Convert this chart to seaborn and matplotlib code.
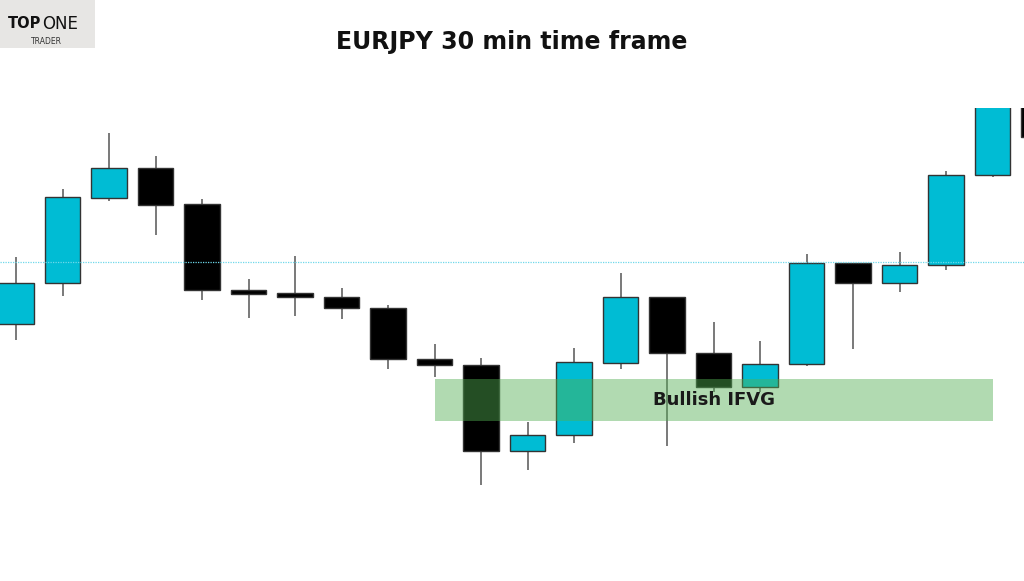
import numpy as np
import pandas as pd
import seaborn as sns
import matplotlib.pyplot as plt
from matplotlib.patches import Rectangle

# EURJPY 30 min candles (arbitrary price scale)
opens  = [162.57, 162.98, 163.83, 164.13, 163.77, 162.91, 162.88, 162.84, 162.73, 162.22, 162.16,
          161.30, 161.46, 162.18, 162.84, 162.28, 161.94, 162.17, 163.18, 162.98, 163.16, 164.06, 164.85]
highs  = [163.24, 163.92, 164.48, 164.25, 163.82, 163.02, 163.25, 162.93, 162.76, 162.37, 162.23,
          161.59, 162.33, 163.08, 162.84, 162.59, 162.40, 163.27, 163.18, 163.29, 164.10, 164.90, 164.90]
lows   = [162.41, 162.85, 163.80, 163.46, 162.81, 162.63, 162.65, 162.62, 162.12, 162.04, 160.96,
          161.11, 161.38, 162.12, 161.35, 161.89, 161.89, 162.15, 162.32, 162.89, 163.11, 164.04, 164.40]
closes = [162.98, 163.84, 164.13, 163.76, 162.91, 162.87, 162.84, 162.73, 162.22, 162.16, 161.30,
          161.46, 162.19, 162.84, 162.28, 161.94, 162.17, 163.18, 162.98, 163.16, 164.06, 164.85, 164.44]

level_price = 163.19          # dotted horizontal level
zone_low, zone_high = 161.60, 162.02   # Bullish IFVG zone
zone_start, zone_end = 9, 21           # candle index range of zone

df = pd.DataFrame({"open": opens, "high": highs, "low": lows, "close": closes})
df["idx"] = np.arange(len(df))
df["bull"] = df["close"] >= df["open"]

sns.set_theme(style="white")
plt.rcParams['font.family'] = ['DejaVu Sans']

bull_c = "#00bcd4"
bear_c = "#000000"

fig = plt.figure(figsize=(10.24, 5.81), dpi=100)
ax = fig.add_axes([0, 0, 1, (581 - 108) / 581])

# wicks
ax.vlines(df["idx"], df["low"], df["high"], color="#555555", linewidth=1.1, zorder=1)

# bodies
bottoms = df[["open", "close"]].min(axis=1)
heights = (df["close"] - df["open"]).abs().clip(lower=0.04)
colors = [bull_c if b else bear_c for b in df["bull"]]
ax.bar(df["idx"], heights, bottom=bottoms, width=0.77, color=colors,
       edgecolor="#333333", linewidth=1.0, zorder=2)

# dotted level
ax.axhline(level_price, color="#6fd8ea", linestyle=(0, (1, 1)), linewidth=0.9, zorder=3)

# IFVG zone
ax.add_patch(Rectangle((zone_start, zone_low), zone_end - zone_start, zone_high - zone_low,
                       facecolor="#52af52", alpha=0.45, edgecolor="none", zorder=4))
ax.text((zone_start + zone_end) / 2, (zone_low + zone_high) / 2, "Bullish IFVG",
        ha="center", va="center", fontsize=13, fontweight="bold", color="#1a1a1a", zorder=5)

ax.set_xlim(-16 / 46.5, (1024 - 16) / 46.5)
ax.set_ylim(160.0, 164.73)
ax.axis("off")

# title
fig.text(0.5, 1 - 42 / 581, "EURJPY 30 min time frame", ha="center", va="center",
         fontsize=17, fontweight="bold", color="#111111")

# logo box
fig.patches.append(Rectangle((0, 1 - 48 / 581), 95 / 1024, 48 / 581, transform=fig.transFigure,
                             facecolor="#e7e6e4", edgecolor="none"))
fig.text(41 / 1024, 1 - 24 / 581, "TOP", ha="right", va="center", fontsize=10.5,
         fontweight="bold", color="#111111")
fig.text(42 / 1024, 1 - 24 / 581, "ONE", ha="left", va="center", fontsize=12, color="#111111")
fig.text(46 / 1024, 1 - 42 / 581, "TRADER", ha="center", va="center", fontsize=5.5, color="#333333")

fig.savefig("out.png", dpi=100)
